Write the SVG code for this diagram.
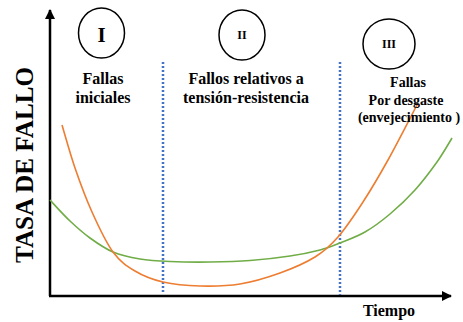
<svg xmlns="http://www.w3.org/2000/svg" width="463" height="322" viewBox="0 0 463 322">
<style>
.t{font-family:"Liberation Serif","Times New Roman",serif;font-weight:bold;fill:#000;text-anchor:middle}
.c{fill:none;stroke:#000;stroke-width:1.5}
.div{stroke:#4472C4;stroke-width:2.5;stroke-dasharray:2 2;fill:none}
.ax{stroke:#000;stroke-width:2.5;fill:none}
</style>
<defs>
<marker id="ah" viewBox="0 0 10 10" refX="9" refY="5" markerWidth="4" markerHeight="4" orient="auto" markerUnits="strokeWidth">
<path d="M0,0 L10,5 L0,10 Z" fill="#000"/>
</marker>
</defs>
<rect width="463" height="322" fill="#fff"/>
<g id="axes">
<path class="ax" d="M50,296 V10" marker-end="url(#ah)"/>
<path class="ax" d="M49,296 H451" marker-end="url(#ah)"/>
<text class="t" transform="translate(33,165) rotate(-90)" font-size="26" textLength="196" lengthAdjust="spacingAndGlyphs">TASA DE FALLO</text>
<text class="t" x="389" y="316" font-size="16">Tiempo</text>
</g>
<g id="dividers">
<line class="div" x1="163" y1="62" x2="163" y2="294"/>
<line class="div" x1="340" y1="62" x2="340" y2="295"/>
</g>
<g id="curves">
<path fill="none" stroke="#70AD47" stroke-width="1.6" d="M50,200 C53.3,203.5 63.3,214.7 70,221 C76.7,227.3 82.8,232.8 90,238 C97.2,243.2 104.7,248.5 113,252 C121.3,255.5 130.5,257.4 140,259 C149.5,260.6 158.3,261 170,261.5 C181.7,262 196.7,262.2 210,262 C223.3,261.8 236.7,261.5 250,260.5 C263.3,259.5 278.3,257.8 290,256 C301.7,254.3 311.7,252.2 320,250 C328.3,247.8 332.5,246 340,243 C347.5,240 356.7,236.8 365,232 C373.3,227.2 381.7,221 390,214 C398.3,207 407.2,198.7 415,190 C422.8,181.3 430.8,170.7 437,162 C443.2,153.3 449.5,142 452,138"/>
<path fill="none" stroke="#ED7D31" stroke-width="1.6" d="M62,125 C64.2,132.2 70,153.5 75,168 C80,182.5 85.7,198 92,212 C98.3,226 105.8,242.2 113,252 C120.2,261.8 126.7,266 135,271 C143.3,276 152.2,279.5 163,282 C173.8,284.5 187.2,285.7 200,286 C212.8,286.3 226.7,286.2 240,284 C253.3,281.8 267.5,277.5 280,273 C292.5,268.5 305.3,263 315,257 C324.7,251 330,246.2 338,237 C346,227.8 354.7,214.8 363,202 C371.3,189.2 378.8,176.5 388,160 C397.2,143.5 413,112.5 418,103"/>
</g>
<g id="phase1">
<ellipse class="c" cx="101.5" cy="33" rx="23" ry="25"/>
<text class="t" x="101.5" y="42" font-size="21">I</text>
<text class="t" x="103" y="84" font-size="16">Fallas</text>
<text class="t" x="103" y="103" font-size="16">iniciales</text>
</g>
<g id="phase2">
<ellipse class="c" cx="242" cy="35" rx="23" ry="25"/>
<text class="t" x="242" y="39" font-size="12">II</text>
<text class="t" x="246" y="84" font-size="16">Fallos relativos a</text>
<text class="t" x="246" y="103" font-size="16">tensión-resistencia</text>
</g>
<g id="phase3">
<ellipse class="c" cx="389" cy="44" rx="26" ry="25"/>
<text class="t" x="389" y="48" font-size="12">III</text>
<text class="t" x="408" y="87" font-size="14">Fallas</text>
<text class="t" x="406" y="105" font-size="14">Por desgaste</text>
<text class="t" x="409" y="122" font-size="14">(envejecimiento )</text>
</g>
</svg>
